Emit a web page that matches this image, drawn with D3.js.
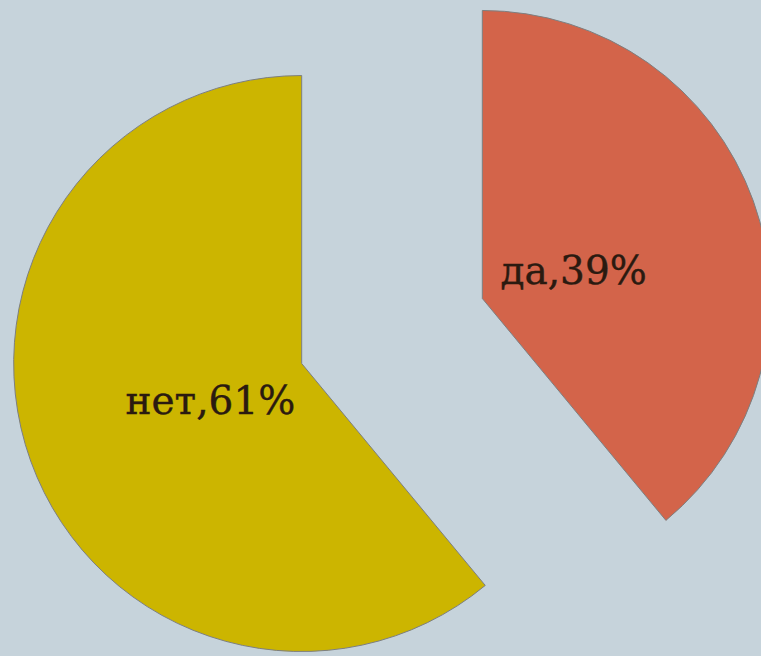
<!DOCTYPE html>
<html><head><meta charset="utf-8">
<script src="https://cdn.jsdelivr.net/npm/d3@7"></script>
<style>html,body{margin:0;padding:0;background:#c6d3db;}svg{display:block;}</style>
</head><body>
<svg id="chart" width="761" height="656"></svg>
<script>
const categories = ["да", "нет"];
const values = [39, 61];
const colors = ["#d3644a", "#ccb500"];

const W = 761, H = 656;
const svg = d3.select("#chart");
svg.append("rect").attr("width", W).attr("height", H).attr("fill", "#c6d3db");

const R = 288, explode = 96, labelR = 97;
const cx = 392, cy = 331;

const pie = d3.pie().sort(null).value(d => d.value);
const data = categories.map((c, i) => ({name: c, value: values[i], color: colors[i]}));
const arcs = pie(data);
const arc = d3.arc().innerRadius(0).outerRadius(R);

const g = svg.append("g").attr("transform", `translate(${cx},${cy})`);
const slice = g.selectAll("g.slice").data(arcs).enter().append("g")
  .attr("transform", d => {
    const a = (d.startAngle + d.endAngle) / 2;
    return `translate(${Math.sin(a) * explode},${-Math.cos(a) * explode})`;
  });
slice.append("path").attr("d", arc).attr("fill", d => d.data.color)
  .attr("stroke", "#7d7f80").attr("stroke-width", 1);
slice.append("text")
  .attr("transform", d => {
    const a = (d.startAngle + d.endAngle) / 2;
    return `translate(${Math.sin(a) * labelR},${-Math.cos(a) * labelR})`;
  })
  .attr("text-anchor", "middle").attr("dy", "0.46em")
  .attr("font-family", "DejaVu Serif").attr("font-size", 39)
  .attr("fill", "#2a1a10").attr("stroke", "#2a1a10").attr("stroke-width", 0.4)
  .text(d => `${d.data.name},${d.data.value}%`);
</script>
</body></html>
